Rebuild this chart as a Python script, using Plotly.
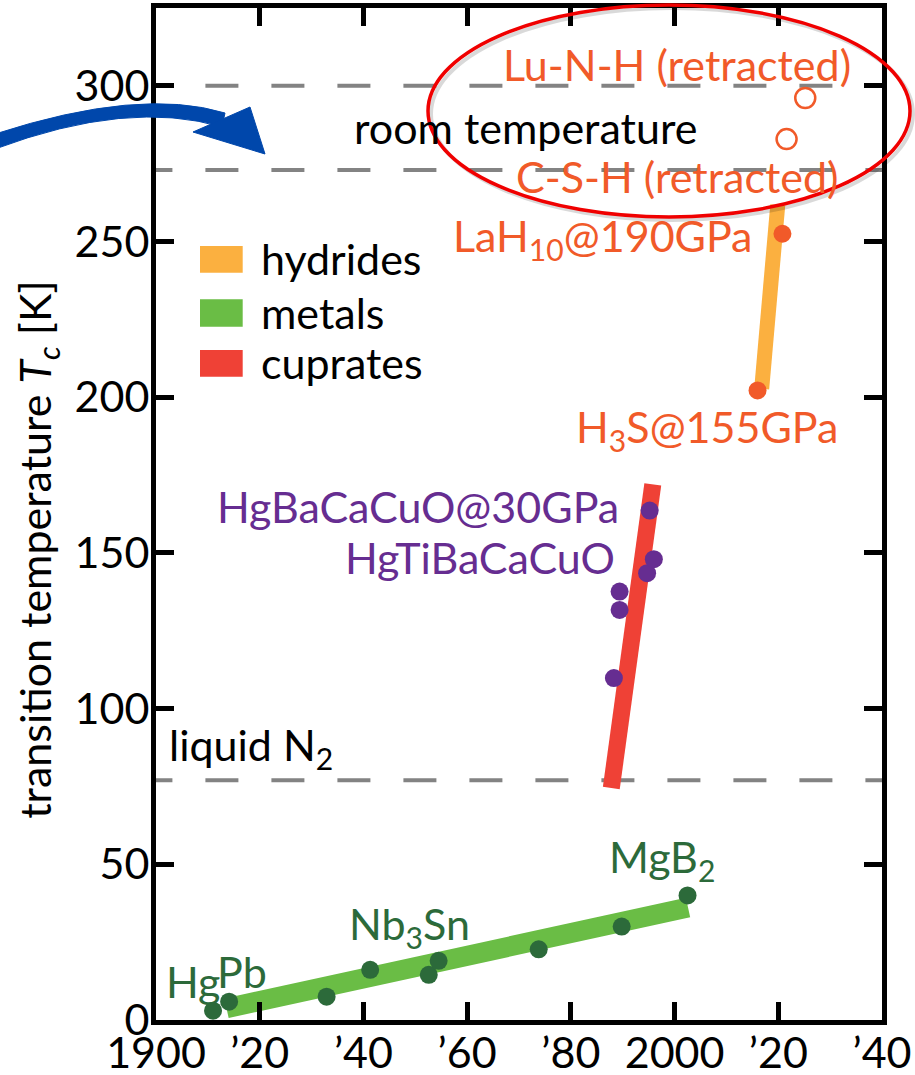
import plotly.graph_objects as go

# ---------------- data ----------------
metal_years = [1911.0, 1914.1, 1932.9, 1941.3, 1952.6, 1954.5, 1973.8, 1989.8, 2002.5]
metal_tc = [3.0, 5.9, 7.5, 16.1, 14.5, 19.0, 22.7, 30.0, 40.0]

cuprate_years = [1988.3, 1989.4, 1989.4, 1994.7, 1996.0, 1995.2]
cuprate_tc = [109.8, 131.7, 137.6, 143.5, 148.0, 163.6]

hydride_years = [2016.0, 2020.8]
hydride_tc = [202.2, 252.5]

retracted_years = [2021.6, 2025.2]
retracted_tc = [282.9, 296.1]

metal_trend_years = [1913.6, 2002.6]
metal_trend_tc = [3.8, 36.1]
cuprate_trend_years = [1987.8, 1995.8]
cuprate_trend_tc = [74.5, 172.0]
hydride_trend_years = [2016.8, 2019.9]
hydride_trend_tc = [202.7, 261.8]

reference_levels = [300, 273, 77]

x_tickvals = [1900, 1920, 1940, 1960, 1980, 2000, 2020, 2040]
x_ticktext = ["1900", "\u201920", "\u201940", "\u201960", "\u201980", "2000", "\u201920", "\u201940"]
y_tickvals = [0, 50, 100, 150, 200, 250, 300]

legend_names = ["hydrides", "metals", "cuprates"]

# ---------------- styles ----------------
FONT = "Lato"
FS = 43
C_HYD = "#fbb040"
C_MET = "#6abd45"
C_CUP = "#ef4136"
C_MET_DOT = "#2c6a3a"
C_CUP_DOT = "#662d91"
C_HYD_DOT = "#f15a29"
C_GRAY = "#838383"

# plot area geometry in pixels (for decorative shapes)
L, R, T, B = 156, 882, 8, 1020
W, H = 915, 1075


def px(x):
    return (x - L) / (R - L)


def py(y):
    return (B - y) / (B - T)


fig = go.Figure()

# dashed reference lines
for lvl in reference_levels:
    fig.add_trace(go.Scatter(
        x=[1896.8, 2045], y=[lvl, lvl], mode="lines",
        line=dict(color=C_GRAY, width=4, dash="33px,33px"),
        hoverinfo="skip", showlegend=False))

# trend bands
fig.add_trace(go.Scatter(x=metal_trend_years, y=metal_trend_tc, mode="lines",
                         line=dict(color=C_MET, width=20), showlegend=False))
fig.add_trace(go.Scatter(x=cuprate_trend_years, y=cuprate_trend_tc, mode="lines",
                         line=dict(color=C_CUP, width=17), showlegend=False))
fig.add_trace(go.Scatter(x=hydride_trend_years, y=hydride_trend_tc, mode="lines",
                         line=dict(color=C_HYD, width=15), showlegend=False))

# points
fig.add_trace(go.Scatter(x=metal_years, y=metal_tc, mode="markers",
                         marker=dict(color=C_MET_DOT, size=18), showlegend=False))
fig.add_trace(go.Scatter(x=cuprate_years, y=cuprate_tc, mode="markers",
                         marker=dict(color=C_CUP_DOT, size=18), showlegend=False))
fig.add_trace(go.Scatter(x=hydride_years, y=hydride_tc, mode="markers",
                         marker=dict(color=C_HYD_DOT, size=18), showlegend=False))
fig.add_trace(go.Scatter(x=retracted_years, y=retracted_tc, mode="markers",
                         marker=dict(symbol="circle-open", color=C_HYD_DOT, size=20,
                                     line=dict(width=2.5, color=C_HYD_DOT)),
                         showlegend=False))

# ---------------- annotations ----------------
def ann(text, x, y, color, xanchor="center", yanchor="middle", size=FS, xref="x", yref="y", angle=0):
    fig.add_annotation(text=text, x=x, y=y, xref=xref, yref=yref, showarrow=False,
                       xanchor=xanchor, yanchor=yanchor, textangle=angle,
                       font=dict(family=FONT, size=size, color=color))


ann("Lu-N-H (retracted)", 2034.5, 307.0, C_HYD_DOT, xanchor="right")
ann("room temperature", 1971.3, 286.5, "black")
ann("C-S-H (retracted)", 2032.0, 271.0, C_HYD_DOT, xanchor="right")
ann("LaH<sub>10</sub>@190GPa", 2015.5, 251.0, C_HYD_DOT, xanchor="right")
ann("H<sub>3</sub>S@155GPa", 2031.9, 189.5, C_HYD_DOT, xanchor="right")
ann("HgBaCaCuO@30GPa", 1989.7, 165.0, C_CUP_DOT, xanchor="right")
ann("HgTiBaCaCuO", 1988.9, 148.4, C_CUP_DOT, xanchor="right")
ann("liquid N<sub>2</sub>", 1902.2, 87.5, "black", xanchor="left")
ann("MgB<sub>2</sub>", 1997.6, 51.5, C_MET_DOT)
ann("Nb<sub>3</sub>Sn", 1948.9, 30.0, C_MET_DOT)
ann("Hg", 1901.6, 12.5, C_MET_DOT, xanchor="left")
ann("Pb", 1911.4, 15.5, C_MET_DOT, xanchor="left")

# y-axis title
ann("transition temperature <i>T<sub>c</sub></i> [K]", px(38), 151, "black",
    xref="paper", angle=-90, size=43)

# manual legend
legend_colors = [C_HYD, C_MET, C_CUP]
legend_rows = [(246, 272.7), (299.3, 326.7), (350, 376.7)]
shapes = []
for name, col, (y0, y1) in zip(legend_names, legend_colors, legend_rows):
    shapes.append(dict(type="rect", xref="paper", yref="paper",
                       x0=px(200), x1=px(242.7), y0=py(y1), y1=py(y0),
                       fillcolor=col, line=dict(width=0)))
    ann(name, px(259), py((y0 + y1) / 2 - 1), "black", xanchor="left", xref="paper", yref="paper")

# ellipse highlight with soft shadow
shapes.append(dict(type="circle", xref="paper", yref="paper",
                   x0=px(431), x1=px(913), y0=py(220), y1=py(8),
                   line=dict(color="rgba(0,0,0,0.15)", width=4)))
shapes.append(dict(type="circle", xref="paper", yref="paper",
                   x0=px(428), x1=px(910), y0=py(217), y1=py(5),
                   line=dict(color="#f00000", width=3.5)))


# blue curved arrow
def P(x, y):
    return f"{px(x):.5f},{py(y):.5f}"


shaft = (f"M {P(-5, 134)} Q {P(140, 87)} {P(225, 113)} L {P(222, 127)} "
         f"Q {P(129, 99)} {P(-5, 149)} Z")
head = f"M {P(193, 132)} L {P(250, 107)} L {P(265, 154)} Z"
for path in (shaft, head):
    shapes.append(dict(type="path", xref="paper", yref="paper", path=path,
                       fillcolor="#0047ab", line=dict(color="#0047ab", width=1)))

axis_common = dict(showgrid=False, zeroline=False, showline=True, linewidth=5,
                   linecolor="black", mirror="ticks", ticks="inside", ticklen=18,
                   tickwidth=4.5, tickcolor="black", automargin=False,
                   tickfont=dict(family=FONT, size=FS, color="black"))

fig.update_layout(
    template="none",
    width=W, height=H,
    margin=dict(l=L, r=W - R, t=T, b=H - B, pad=0, autoexpand=False),
    paper_bgcolor="white", plot_bgcolor="white",
    font=dict(family=FONT, size=FS, color="black"),
    showlegend=False,
    shapes=shapes,
    xaxis=dict(range=[1900, 2040], tickvals=x_tickvals, ticktext=x_ticktext,
               ticklabelstandoff=-9, **axis_common),
    yaxis=dict(range=[0, 325], tickvals=y_tickvals, ticklabelstandoff=-7, **axis_common),
)

fig.write_html("out.html", config={"displayModeBar": False},
               post_script="document.body.style.margin='0px';document.body.style.overflow='hidden';")
